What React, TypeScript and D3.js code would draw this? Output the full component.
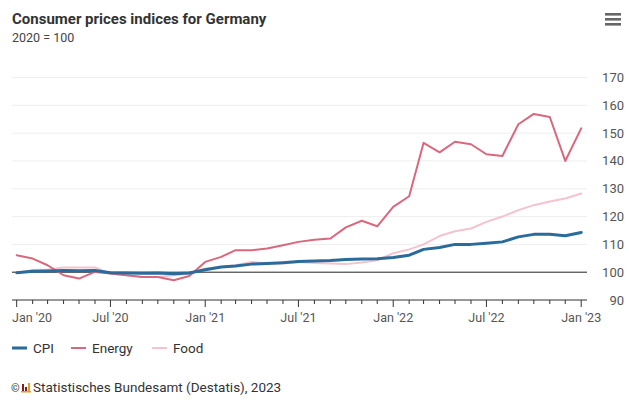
import React from 'react';
import * as d3 from 'd3';

// monthly values, Jan 2020 .. Jan 2023 (2020 = 100)
const months: Date[] = d3.timeMonth.range(new Date(2020, 0, 1), new Date(2023, 1, 1));

const cpi = [
  99.8, 100.3, 100.4, 100.6, 100.5, 100.6, 99.8, 99.7, 99.6, 99.7, 99.4, 99.7,
  100.9, 101.9, 102.2, 102.9, 103.1, 103.4, 103.8, 104.0, 104.2, 104.6, 104.7, 104.8,
  105.3, 106.1, 108.2, 108.9, 110.0, 110.0, 110.4, 110.9, 112.7, 113.6, 113.6, 113.1,
  114.3,
];
const energy = [
  106.1, 104.9, 102.5, 98.9, 97.7, 100.1, 99.5, 98.9, 98.3, 98.3, 97.1, 98.6,
  103.7, 105.5, 107.9, 107.9, 108.5, 109.7, 110.9, 111.7, 112.1, 116.1, 118.5, 116.5,
  123.5, 127.3, 146.5, 143.1, 146.9, 146.0, 142.4, 141.8, 153.2, 156.9, 155.8, 140.0,
  151.7,
];
const food = [
  99.7, 100.8, 101.0, 101.7, 101.7, 101.7, 99.5, 98.9, 98.3, 98.3, 98.9, 99.5,
  101.3, 101.9, 102.5, 103.7, 103.1, 103.1, 103.7, 103.3, 103.1, 102.9, 103.5, 104.3,
  106.8, 108.2, 110.0, 113.0, 114.7, 115.7, 118.1, 120.0, 122.3, 124.1, 125.4, 126.5,
  128.3,
];

const seriesNames = ['CPI', 'Energy', 'Food'];
const seriesColors = ['#2a6b9c', '#d9687e', '#f4c3cd'];
const yTicks = [90, 100, 110, 120, 130, 140, 150, 160, 170];
const xTickLabels = ["Jan '20", "Jul '20", "Jan '21", "Jul '21", "Jan '22", "Jul '22", "Jan '23"];

const W = 629;
const H = 411;
const FONT = 'Roboto, "Noto Sans", sans-serif';

const App = () => {
  const svgRef = React.useRef<SVGSVGElement>(null);

  React.useEffect(() => {
    const svg = d3.select(svgRef.current);
    svg.selectAll('*').remove();

    const x = d3.scaleTime()
      .domain([months[0], months[months.length - 1]])
      .range([16.7, 581.2]);
    const y = d3.scaleLinear().domain([90, 170]).range([300, 77.5]);

    // title
    svg.append('text')
      .attr('x', 12).attr('y', 24)
      .attr('font-size', 15).attr('font-weight', 'bold')
      .attr('fill', '#333')
      .text('Consumer prices indices for Germany');
    svg.append('text')
      .attr('x', 12).attr('y', 42)
      .attr('font-size', 12.5).attr('fill', '#444')
      .text('2020 = 100');

    // menu button
    [0, 1, 2].forEach((i) => {
      svg.append('rect')
        .attr('x', 605).attr('y', 13 + i * 5)
        .attr('width', 16).attr('height', 2.6)
        .attr('fill', '#666');
    });

    // gridlines
    svg.append('g')
      .selectAll('line')
      .data(yTicks.filter((t) => t > 100))
      .enter()
      .append('line')
      .attr('x1', 12).attr('x2', 587)
      .attr('y1', (d) => y(d)).attr('y2', (d) => y(d))
      .attr('stroke', '#eeeeee').attr('stroke-width', 1);

    // y labels on the right
    svg.append('g')
      .selectAll('text')
      .data(yTicks)
      .enter()
      .append('text')
      .attr('x', 624)
      .attr('y', (d) => y(d) + 4.5)
      .attr('text-anchor', 'end')
      .attr('font-size', 13)
      .attr('fill', '#555')
      .text((d) => d);

    // x axis
    const axis = svg.append('g');
    axis.append('line')
      .attr('x1', 12).attr('x2', 587)
      .attr('y1', y(90)).attr('y2', y(90))
      .attr('stroke', '#333').attr('stroke-width', 1);
    axis.selectAll('line.tick')
      .data(months)
      .enter()
      .append('line')
      .attr('class', 'tick')
      .attr('x1', (d) => x(d)).attr('x2', (d) => x(d))
      .attr('y1', y(90))
      .attr('y2', (d) => y(90) + (d.getMonth() % 6 === 0 ? 7 : 4))
      .attr('stroke', '#333').attr('stroke-width', 1);
    const majors = months.filter((d) => d.getMonth() % 6 === 0);
    axis.selectAll('text')
      .data(majors)
      .enter()
      .append('text')
      .attr('x', (d, i) => (i === 0 ? 12 : x(d)))
      .attr('y', 322)
      .attr('text-anchor', (d, i) => (i === 0 ? 'start' : 'middle'))
      .attr('font-size', 12.5)
      .attr('fill', '#555')
      .text((d, i) => xTickLabels[i]);

    // 100 line
    svg.append('line')
      .attr('x1', 12).attr('x2', 587)
      .attr('y1', y(100)).attr('y2', y(100))
      .attr('stroke', '#222').attr('stroke-width', 1);

    const line = d3.line<number>()
      .x((d, i) => x(months[i]))
      .y((d) => y(d));

    const lines = [cpi, energy, food];
    const widths = [3, 2, 2];
    // draw food first, then energy, CPI on top
    [2, 1, 0].forEach((k) => {
      svg.append('path')
        .datum(lines[k])
        .attr('d', line)
        .attr('fill', 'none')
        .attr('stroke', seriesColors[k])
        .attr('stroke-width', widths[k])
        .attr('stroke-linejoin', 'round')
        .attr('stroke-linecap', 'round');
    });

    // legend
    const legendX = [12, 71, 152];
    const lg = svg.append('g');
    seriesNames.forEach((name, i) => {
      lg.append('line')
        .attr('x1', legendX[i]).attr('x2', legendX[i] + 15)
        .attr('y1', 348).attr('y2', 348)
        .attr('stroke', seriesColors[i])
        .attr('stroke-width', i === 0 ? 3 : 2);
      lg.append('text')
        .attr('x', legendX[i] + 21).attr('y', 352.5)
        .attr('font-size', 13.5).attr('fill', '#333')
        .text(name);
    });

    // credits
    const cr = svg.append('g');
    cr.append('text')
      .attr('x', 11).attr('y', 392)
      .attr('font-size', 11).attr('fill', '#333')
      .text('\u00a9');
    cr.append('rect').attr('x', 22).attr('y', 384).attr('width', 2).attr('height', 8).attr('fill', '#8b1a1a');
    cr.append('rect').attr('x', 25).attr('y', 387).attr('width', 2).attr('height', 5).attr('fill', '#8b1a1a');
    cr.append('rect').attr('x', 28).attr('y', 383).attr('width', 2).attr('height', 9).attr('fill', '#e0a020');
    cr.append('rect').attr('x', 21).attr('y', 391).attr('width', 10).attr('height', 1.5).attr('fill', '#e0a020');
    cr.append('text')
      .attr('x', 33).attr('y', 392)
      .attr('font-size', 13.5).attr('fill', '#333')
      .text('Statistisches Bundesamt (Destatis), 2023');
  }, []);

  return (
    <div style={{ position: 'absolute', left: 0, top: 0 }}>
      <svg
        ref={svgRef}
        width={W}
        height={H}
        style={{ display: 'block', fontFamily: FONT, background: '#fff' }}
      />
    </div>
  );
};

export default App;
